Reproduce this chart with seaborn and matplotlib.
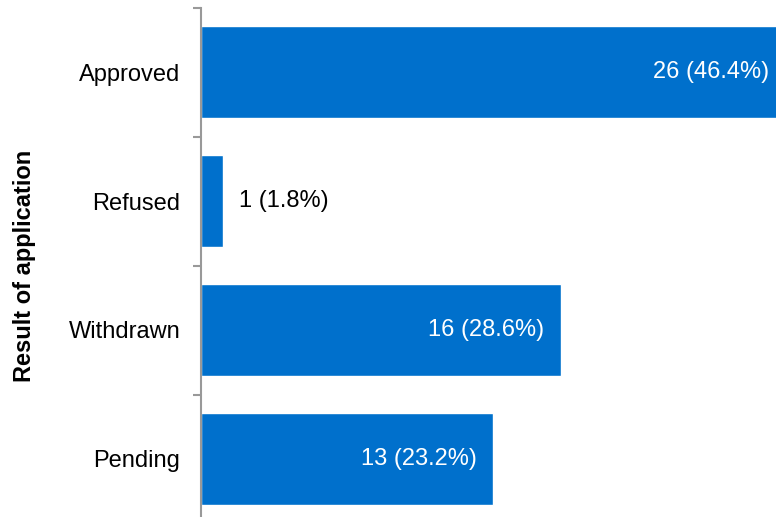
import matplotlib
matplotlib.use("Agg")
import matplotlib.pyplot as plt
import seaborn as sns
import pandas as pd
import numpy as np

# Dane
results = ["Approved", "Refused", "Withdrawn", "Pending"]
counts = [26, 1, 16, 13]
percents = [46.4, 1.8, 28.6, 23.2]

df = pd.DataFrame({"result": results, "count": counts})

sns.set_style("white")
plt.rcParams["font.family"] = ["Liberation Sans", "DejaVu Sans"]

fig = plt.figure(figsize=(7.76, 5.17), dpi=100)
# oś wychodzi poza prawą krawędź - najdłuższy słupek jest ucięty
ax = fig.add_axes([201 / 776, -6.5 / 517, 596 / 776, 516 / 517])

sns.barplot(data=df, y="result", x="count", orient="h", color="#0070CC",
            width=0.715, saturation=1, ax=ax)

ax.set_xlim(0, 26.5)
ax.set_ylim(3.5, -0.5)

# Etykiety wartości
fs = 17
for i, (c, p) in enumerate(zip(counts, percents)):
    label = f"{c} ({p}%)"
    if c >= 5:
        ax.text(c - 0.75, i, label, ha="right", va="center",
                color="white", fontsize=fs)
    else:
        ax.text(c + 0.7, i, label, ha="left", va="center",
                color="black", fontsize=fs)

# Osie
for s in ["top", "right", "bottom"]:
    ax.spines[s].set_visible(False)
ax.spines["left"].set_color("#999999")
ax.spines["left"].set_linewidth(1.5)
ax.set_xticks([])
ax.set_yticks(range(len(results)))
ax.set_yticklabels(results, fontsize=fs, color="black")
ax.tick_params(axis="y", which="major", length=0, pad=15)
ax.set_yticks(np.arange(-0.5, 4.0, 1.0), minor=True)
ax.tick_params(axis="y", which="minor", left=True, length=6, width=1.5,
               color="#999999")
ax.set_xlabel("")
ax.set_ylabel("Result of application", fontsize=fs, fontweight="bold",
              color="black", labelpad=23)

fig.savefig("out.png", dpi=100)
